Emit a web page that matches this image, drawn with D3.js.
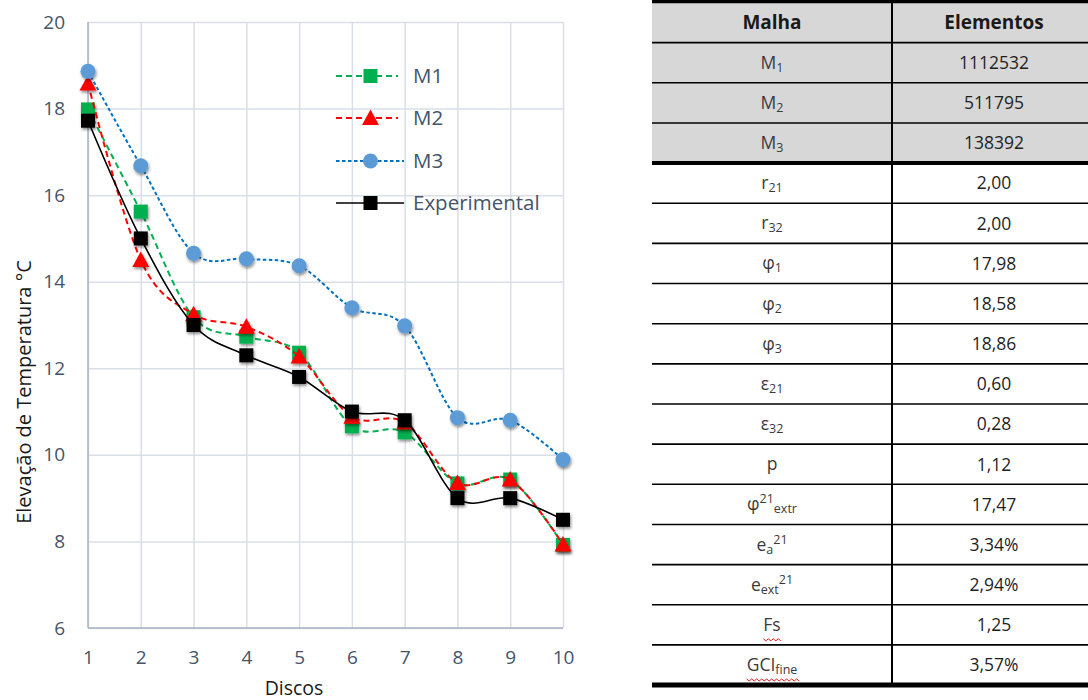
<!DOCTYPE html>
<html>
<head>
<meta charset="utf-8">
<script src="https://cdn.jsdelivr.net/npm/d3@7"></script>
<style>
  html, body { margin: 0; padding: 0; background: #fff; }
  svg { display: block; }
</style>
</head>
<body>
<script>
// Temperature rise per disc: three meshes and the experiment
const discs = [1, 2, 3, 4, 5, 6, 7, 8, 9, 10];
const m1 = [17.98, 15.62, 13.18, 12.73, 12.36, 10.66, 10.52, 9.34, 9.43, 7.92];
const m2 = [18.58, 14.50, 13.25, 12.96, 12.27, 10.88, 10.75, 9.35, 9.43, 7.93];
const m3 = [18.86, 16.68, 14.66, 14.53, 14.37, 13.40, 12.98, 10.86, 10.80, 9.89];
const experimental = [17.72, 15.00, 13.00, 12.30, 11.80, 11.00, 10.80, 9.00, 9.00, 8.50];
const seriesNames = ["M1", "M2", "M3", "Experimental"];
const yTicks = [6, 8, 10, 12, 14, 16, 18, 20];

// Mesh convergence (GCI) table
const tableHeader = ["Malha", "Elementos"];
const tableLabels = ["M_{1}", "M_{2}", "M_{3}", "r_{21}", "r_{32}", "φ_{1}", "φ_{2}", "φ_{3}",
  "ε_{21}", "ε_{32}", "p", "φ^{21}_{extr}", "e_{a}^{21}", "e_{ext}^{21}", "Fs", "GCI_{fine}"];
const tableValues = ["1112532", "511795", "138392", "2,00", "2,00", "17,98", "18,58", "18,86",
  "0,60", "0,28", "1,12", "17,47", "3,34%", "2,94%", "1,25", "3,57%"];
const flaggedLabels = ["Fs", "GCI_{fine}"];

const W = 1088, H = 700;
const svg = d3.select("body").append("svg").attr("width", W).attr("height", H);

const defs = svg.append("defs");
defs.append("filter").attr("id", "mshadow")
  .attr("x", "-50%").attr("y", "-50%").attr("width", "200%").attr("height", "200%")
  .append("feDropShadow")
  .attr("dx", 1).attr("dy", 2).attr("stdDeviation", 1.6)
  .attr("flood-color", "#000").attr("flood-opacity", 0.45);

// ---------- chart ----------
const plot = { left: 88, right: 563, top: 22, bottom: 628 };
const x = d3.scaleLinear().domain([1, 10]).range([plot.left, plot.right]);
const y = d3.scaleLinear().domain([6, 20]).range([plot.bottom, plot.top]);

const tickColor = "#44546a";
const font = "'Open Sans', 'Noto Sans', sans-serif";

// horizontal grid + y tick labels
const yAxis = svg.append("g").attr("transform", `translate(${plot.left},0)`)
  .call(d3.axisLeft(y).tickValues(yTicks).tickSize(-(plot.right - plot.left)).tickPadding(23));
// vertical grid + x tick labels
const xAxis = svg.append("g").attr("transform", `translate(0,${plot.bottom})`)
  .call(d3.axisBottom(x).tickValues(discs).tickSize(-(plot.bottom - plot.top)).tickPadding(23));

[yAxis, xAxis].forEach(g => {
  g.select(".domain").remove();
  g.selectAll(".tick line").attr("stroke", "#d9dee7").attr("stroke-width", 1.5);
  g.selectAll(".tick text").attr("fill", tickColor)
    .style("font-family", font).style("font-size", "19px");
});
// axis lines
svg.append("line").attr("x1", plot.left).attr("x2", plot.left)
  .attr("y1", plot.top).attr("y2", plot.bottom).attr("stroke", "#a8b3c5").attr("stroke-width", 1.5);
svg.append("line").attr("x1", plot.left).attr("x2", plot.right)
  .attr("y1", plot.bottom).attr("y2", plot.bottom).attr("stroke", "#a8b3c5").attr("stroke-width", 1.5);

// axis titles
svg.append("text").attr("x", 294).attr("y", 695).attr("text-anchor", "middle")
  .style("font-family", font).style("font-size", "19.5px").attr("fill", "#1a1a1a").text("Discos");
svg.append("text").attr("transform", "translate(31,392) rotate(-90)").attr("text-anchor", "middle")
  .style("font-family", font).style("font-size", "20px").attr("fill", "#1a1a1a")
  .text("Elevação de Temperatura °C");

const series = [
  { name: seriesNames[0], values: m1, stroke: "#00b050", fill: "#00b050", dash: "6,4", width: 2, marker: "square" },
  { name: seriesNames[1], values: m2, stroke: "#ff0000", fill: "#ff0000", dash: "6,4", width: 2, marker: "triangle" },
  { name: seriesNames[2], values: m3, stroke: "#0070c0", fill: "#5b9bd5", dash: "3.5,2.5", width: 2, marker: "circle" },
  { name: seriesNames[3], values: experimental, stroke: "#000000", fill: "#000000", dash: null, width: 1.6, marker: "square" }
];

const line = d3.line().x(d => x(d[0])).y(d => y(d[1])).curve(d3.curveCardinal.tension(0));

function drawMarker(g, kind, cx, cy, color, shadow) {
  let m;
  if (kind === "square") {
    m = g.append("rect").attr("x", cx - 7).attr("y", cy - 7).attr("width", 14).attr("height", 14);
  } else if (kind === "circle") {
    m = g.append("circle").attr("cx", cx).attr("cy", cy).attr("r", 7.5);
  } else {
    m = g.append("path").attr("d", `M${cx},${cy - 8.5}L${cx + 8.5},${cy + 7}L${cx - 8.5},${cy + 7}Z`);
  }
  m.attr("fill", color);
  if (shadow) m.attr("filter", "url(#mshadow)");
}

series.forEach(s => {
  const g = svg.append("g");
  const pts = discs.map((d, i) => [d, s.values[i]]);
  g.append("path").attr("d", line(pts)).attr("fill", "none")
    .attr("stroke", s.stroke).attr("stroke-width", s.width)
    .attr("stroke-dasharray", s.dash);
  pts.forEach(p => drawMarker(g, s.marker, x(p[0]), y(p[1]), s.fill, true));
});

// legend
const legendY = [76, 118, 161, 203];
series.forEach((s, i) => {
  const g = svg.append("g");
  const ly = legendY[i];
  g.append("line").attr("x1", 336).attr("x2", i >= 2 ? 404 : 398).attr("y1", ly).attr("y2", ly)
    .attr("stroke", s.stroke).attr("stroke-width", s.width).attr("stroke-dasharray", s.dash);
  drawMarker(g, s.marker, 370.5, ly, s.fill, false);
  g.append("text").attr("x", 413).attr("y", ly).attr("dy", "0.36em")
    .style("font-family", font).style("font-size", "20.5px").attr("fill", tickColor).text(s.name);
});

// ---------- table ----------
const tb = { left: 652, right: 1100, mid: 892, top: 2.5, rowH: 40.15 };
const c1 = (tb.left + tb.mid) / 2, c2 = (tb.mid + tb.right) / 2 - 2;
const nRows = tableLabels.length + 1;
const rowY = i => tb.top + i * tb.rowH;
const tableG = svg.append("g");

tableG.append("rect").attr("x", tb.left).attr("y", rowY(0)).attr("width", tb.right - tb.left)
  .attr("height", rowY(4) - rowY(0)).attr("fill", "#d8d7d8");

// row separators
d3.range(1, nRows).forEach(i => {
  if (i === 4) return;
  tableG.append("line").attr("x1", tb.left).attr("x2", tb.right).attr("y1", rowY(i)).attr("y2", rowY(i))
    .attr("stroke", "#000").attr("stroke-width", 1.6);
});
tableG.append("line").attr("x1", tb.mid).attr("x2", tb.mid).attr("y1", rowY(0)).attr("y2", rowY(nRows))
  .attr("stroke", "#000").attr("stroke-width", 2);
tableG.append("line").attr("x1", tb.left).attr("x2", tb.right).attr("y1", 1.5).attr("y2", 1.5)
  .attr("stroke", "#000").attr("stroke-width", 3.5);
tableG.append("line").attr("x1", tb.left).attr("x2", tb.right).attr("y1", rowY(4)).attr("y2", rowY(4))
  .attr("stroke", "#000").attr("stroke-width", 4);
tableG.append("line").attr("x1", tb.left).attr("x2", tb.right).attr("y1", rowY(nRows)).attr("y2", rowY(nRows))
  .attr("stroke", "#000").attr("stroke-width", 5);

const tfont = "'Open Sans', 'Noto Sans', sans-serif";
tableHeader.forEach((h, j) => {
  tableG.append("text").attr("x", j === 0 ? c1 : c2).attr("y", rowY(0) + tb.rowH / 2).attr("dy", "0.36em")
    .attr("text-anchor", "middle").style("font-family", tfont).style("font-size", "19px")
    .style("font-weight", "bold").attr("fill", "#1a1a1a").text(h);
});

// labels written as base text with _{sub} and ^{sup} parts
function addRich(textSel, spec) {
  const re = /([_^])\{([^}]*)\}|([^_^]+)/g;
  let m, shift = 0;
  while ((m = re.exec(spec)) !== null) {
    if (m[3]) {
      textSel.append("tspan").attr("dy", -shift).style("font-size", "17.5px").text(m[3]);
      shift = 0;
    } else {
      const target = m[1] === "_" ? 3 : -7;
      textSel.append("tspan").attr("dy", target - shift).style("font-size", "12.5px").text(m[2]);
      shift = target;
    }
  }
}

tableLabels.forEach((lab, i) => {
  const cy = rowY(i + 1) + tb.rowH / 2;
  const t = tableG.append("text").attr("x", c1).attr("y", cy + 6).attr("text-anchor", "middle")
    .style("font-family", tfont).attr("fill", "#3a3a3a");
  addRich(t, lab);
  if (flaggedLabels.includes(lab)) {
    const bb = t.node().getBBox();
    const yy = cy + 14;
    let d = `M${bb.x},${yy}`;
    for (let xx = bb.x, k = 0; xx < bb.x + bb.width; xx += 2.5, k++) {
      d += `L${xx + 2.5},${yy + (k % 2 === 0 ? 2 : 0)}`;
    }
    tableG.append("path").attr("d", d).attr("fill", "none").attr("stroke", "#e02020").attr("stroke-width", 1);
  }
  tableG.append("text").attr("x", c2).attr("y", cy).attr("dy", "0.36em").attr("text-anchor", "middle")
    .style("font-family", tfont).style("font-size", "17.5px").attr("fill", "#1f1f1f").text(tableValues[i]);
});
</script>
</body>
</html>
